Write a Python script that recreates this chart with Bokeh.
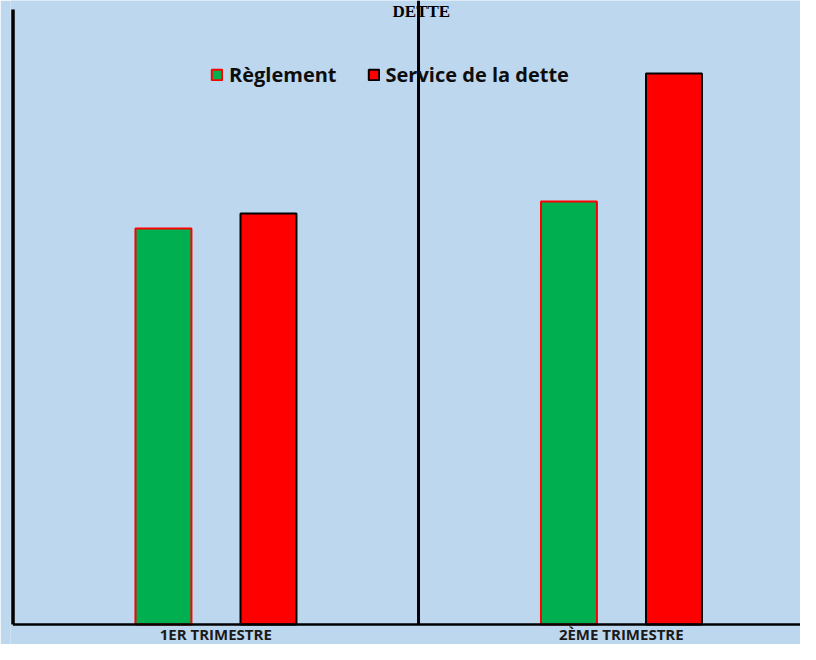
from bokeh.plotting import figure
from bokeh.models import Range1d, Legend, LegendItem, ColumnDataSource
from bokeh.core.properties import value
from bokeh.embed import file_html
from bokeh.resources import INLINE

# ---- data ----
categories = ["1ER TRIMESTRE", "2ÈME TRIMESTRE"]
series_names = ["Règlement", "Service de la dette"]
reglement = [39.6, 42.3]
service_dette = [41.1, 55.1]
title_text = "DETTE"

BG = "#BDD7EE"
GREEN = "#00B050"
RED = "#FF0000"

X0, X1 = -0.0062, 1.942
Y0, Y1 = -2.0, 62.4

p = figure(width=800, height=644, output_backend="svg", toolbar_location=None,
           x_range=Range1d(X0, X1), y_range=Range1d(Y0, Y1),
           min_border_left=10, min_border_right=0, min_border_top=0, min_border_bottom=0)
p.background_fill_color = BG
p.border_fill_color = BG
p.outline_line_color = None
p.grid.visible = False
p.yaxis.visible = False
p.xaxis.visible = False

centers = [i + 0.5 for i in range(len(categories))]
x_green = [c - 0.129 for c in centers]
x_red = [c + 0.130 for c in centers]
bw = 0.138

src_g = ColumnDataSource(dict(x=x_green, top=reglement))
src_r = ColumnDataSource(dict(x=x_red, top=service_dette))
rg = p.vbar(x="x", top="top", bottom=0, width=bw, source=src_g, fill_color=GREEN,
            line_color=RED, line_width=2)
rr = p.vbar(x="x", top="top", bottom=0, width=bw, source=src_r, fill_color=RED,
            line_color="black", line_width=2)

# axis lines (left, baseline) and category separator
p.segment(x0=[0], y0=[0], x1=[0], y1=[61.5], line_color="black", line_width=3.5)
p.segment(x0=[1], y0=[0], x1=[1], y1=[Y1], line_color="black", line_width=3)
p.segment(x0=[0], y0=[0], x1=[X1], y1=[0], line_color="black", line_width=2.5)

# title (top of chart)
p.text(x=[1.007], y=[61.3], text=[title_text], text_font=value("Liberation Serif"),
       text_font_style="bold", text_font_size="17px", text_align="center",
       text_baseline="middle", text_color="black")

# category labels below the baseline
p.text(x=centers, y=[-0.9] * len(centers), text=categories, text_align="center",
       text_baseline="middle", text_font=value("Open Sans"),
       text_font_style="bold", text_font_size="15px", text_color="#1a1a1a")

legend = Legend(items=[LegendItem(label=series_names[0], renderers=[rg]),
                       LegendItem(label=series_names[1], renderers=[rr])],
                orientation="horizontal", location=(200, 556),
                background_fill_alpha=0, border_line_color=None,
                padding=0, margin=0, spacing=30, label_standoff=6,
                glyph_width=13, glyph_height=13,
                label_text_font="Open Sans", label_text_font_style="bold",
                label_text_font_size="20px", label_text_color="#0d0d0d")
p.add_layout(legend, "center")

html = file_html(p, INLINE)
html = html.replace("<body>", '<body style="background-color:#BDD7EE;">', 1)
open("out.html", "w").write(html)
